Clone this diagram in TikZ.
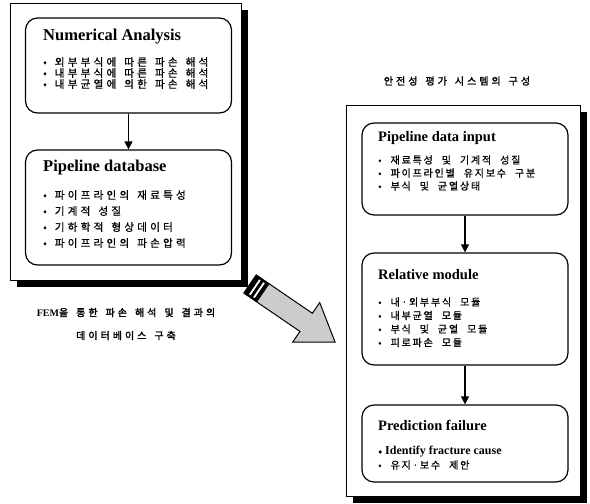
\documentclass[tikz,border=0pt]{standalone}
\usepackage{fontspec}
\setmainfont{Liberation Serif}
\newfontfamily\kr[LetterSpace=18,FakeBold=0.8]{Noto Sans CJK KR}
\newfontfamily\krw[LetterSpace=30,FakeBold=0.8]{Noto Sans CJK KR}
\newfontfamily\krb[LetterSpace=30,FakeBold=2]{Noto Sans CJK KR}
\newcommand\itemfont{\kr\fontsize{10}{12}\selectfont\spaceskip 9pt\relax}
\newcommand\wideitemfont{\krw\fontsize{10.6}{12}\selectfont\spaceskip 8pt\relax}
\newcommand\capfont{\krb\fontsize{10}{23}\selectfont\spaceskip 8pt\relax}
\usetikzlibrary{arrows.meta}

\begin{document}
\begin{tikzpicture}[x=1pt,y=-1pt,
  panel/.style={draw=black, line width=0.8pt, fill=white},
  card/.style={draw=black, line width=1.2pt, rounded corners=12pt, minimum width=206pt},
  head/.style={anchor=west, inner sep=0pt, font=\fontsize{14.5}{16}\selectfont\bfseries},
  bighead/.style={head, font=\fontsize{16.5}{18}\selectfont\bfseries},
  item/.style={anchor=west, inner sep=0pt, font=\itemfont},
  wideitem/.style={anchor=west, inner sep=0pt, font=\wideitemfont},
  link/.style={line width=1.1pt, -{Triangle[width=8pt,length=8pt]}},
]
\useasboundingbox (0,0) rectangle (590,504);

% ---- left panel: numerical analysis and database ----
\fill[black] (17,10) rectangle (248,287);
\draw[panel] (10,3) rectangle (241,280);

\node[card, minimum height=95pt] (num) at (128.5,65.5) {};
\node[card, minimum height=115pt] (db) at (128.5,207.5) {};
\draw[link] (num.south) -- (db.north);

\node[bighead] (numT) at (43,37) {Numerical Analysis};
\foreach \t [count=\i] in {• 외부부식에 따른 파손 해석,
                          • 내부부식에 따른 파손 해석,
                          • 내부균열에 의한 파손 해석}
  \node[wideitem] (na\i) at (43,{62+11*(\i-1)}) {\t};

\node[bighead] (dbT) at (43,168) {Pipeline database};
\foreach \t [count=\i] in {• 파이프라인의 재료특성,
                          • 기계적 성질,
                          • 기하학적 형상데이터,
                          • 파이프라인의 파손압력}
  \node[wideitem] (db\i) at (43,{195+16*(\i-1)}) {\t};

\node[font=\capfont, align=center] (cap) at (126,324)
  {{\rmfamily\bfseries FEM}을 통한 파손 해석 및 결과의\\데이터베이스 구축};

% ---- transfer arrow with striped tail ----
\begin{scope}[shift={(250,284)}, x={(0.826pt,-0.564pt)}, y={(0.564pt,0.826pt)}]
  \draw[line width=1pt, fill=black!20] (0,11) -- (68,11) -- (68,24) -- (103,0)
    -- (68,-24) -- (68,-11) -- (0,-11) -- cycle;
  \fill[black] (0,11) -- (16,11) -- (16,-11) -- (0,-11) -- cycle;
  \fill[white] (5,9) -- (6.8,9) -- (6.8,-9) -- (5,-9) -- cycle;
  \fill[white] (10,9) -- (11.8,9) -- (11.8,-9) -- (10,-9) -- cycle;
\end{scope}

% ---- right panel: assessment system ----
\node[font=\capfont] (sysT) at (457,81) {안전성 평가 시스템의 구성};

\fill[black] (353,112) rectangle (587,503);
\draw[panel] (346,105) rectangle (580,496);

\node[card, minimum height=92pt] (inp) at (465,169) {};
\node[card, minimum height=112pt] (rel) at (465,309) {};
\node[card, minimum height=77pt] (pred) at (465,443.5) {};
\draw[link] (inp.south) -- (rel.north);
\draw[link] (rel.south) -- (pred.north);

\node[head] (inpT) at (378,138) {Pipeline data input};
\foreach \t [count=\i] in {• 재료특성 및 기계적 성질,
                          • 파이프라인별 유지보수 구분,
                          • 부식 및 균열상태}
  \node[item] (in\i) at (378,{160+13*(\i-1)}) {\t};

\node[head] (relT) at (378,275) {Relative module};
\foreach \t [count=\i] in {• 내·외부부식 모듈,
                          • 내부균열 모듈,
                          • 부식 및 균열 모듈,
                          • 피로파손 모듈}
  \node[item] (rm\i) at (378,{302+13.5*(\i-1)}) {\t};

\node[head] (predT) at (378,425) {Prediction failure};
\node[anchor=west, inner sep=0pt, font=\fontsize{12}{14}\selectfont\bfseries] (pf1) at (378,452)
  {{\kr\fontsize{10}{12}\selectfont •} Identify fracture cause};
\node[item] (pf2) at (378,465) {• 유지·보수 제안};
\end{tikzpicture}
\end{document}
